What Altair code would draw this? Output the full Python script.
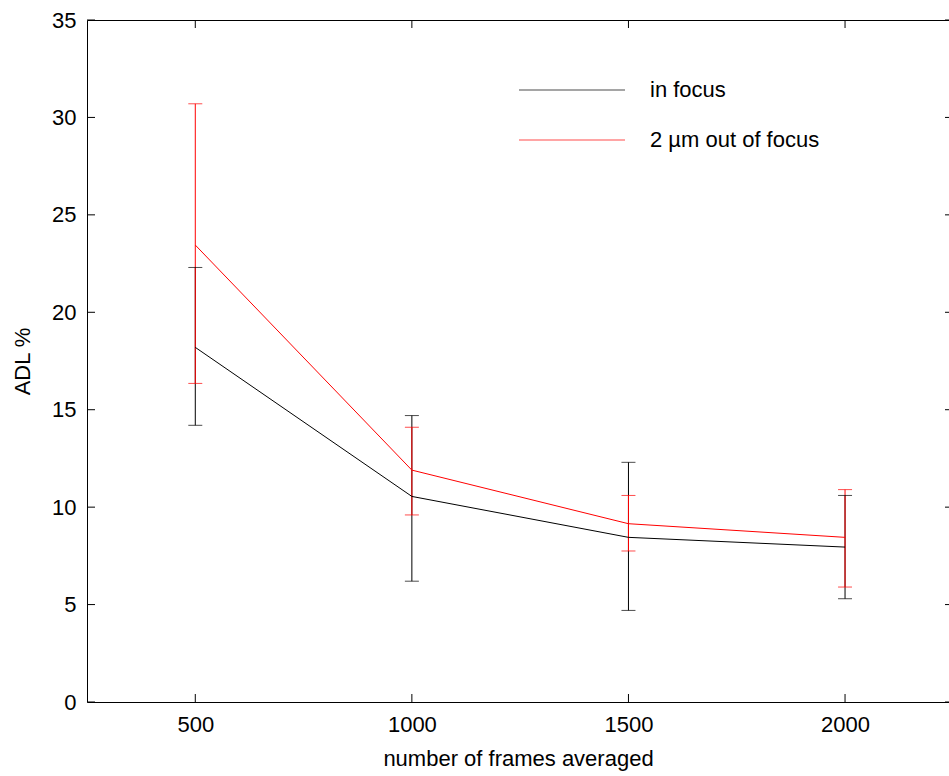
import altair as alt
import pandas as pd

# ---- data ----
frames = [500, 1000, 1500, 2000]
series_names = ["in focus", "2 µm out of focus"]
series_colors = ["#000000", "#ff0000"]

in_focus_mean = [18.2, 10.55, 8.45, 7.95]
in_focus_low = [14.2, 6.2, 4.7, 5.3]
in_focus_high = [22.3, 14.7, 12.3, 10.6]

out_focus_mean = [23.45, 11.9, 9.15, 8.45]
out_focus_low = [16.35, 9.6, 7.75, 5.9]
out_focus_high = [30.7, 14.1, 10.6, 10.9]

x_ticks = [500, 1000, 1500, 2000]
y_ticks = [0, 5, 10, 15, 20, 25, 30, 35]

x_title = "number of frames averaged"
y_title = "ADL %"

# ---- build tables ----
rows = []
for name, m, lo, hi in [
    (series_names[0], in_focus_mean, in_focus_low, in_focus_high),
    (series_names[1], out_focus_mean, out_focus_low, out_focus_high),
]:
    for f, a, b, c in zip(frames, m, lo, hi):
        rows.append({"series": name, "frames": f, "mean": a, "low": b, "high": c})
df = pd.DataFrame(rows)
xt = pd.DataFrame({"v": x_ticks})
yt = pd.DataFrame({"v": y_ticks})

W, H = 862, 682
FONT = "Liberation Sans"
FS = 22
TL = 8

xscale = alt.Scale(domain=[250, 2240], nice=False, zero=False)
yscale = alt.Scale(domain=[0, 35], nice=False, zero=False)

xaxis = alt.Axis(values=x_ticks, format="d", ticks=False, domain=False, grid=False,
                 labelFont=FONT, labelFontSize=FS, labelColor="black",
                 labelPadding=12, title=x_title, titleFont=FONT,
                 titleFontSize=FS, titleFontWeight="normal", titleColor="black",
                 titlePadding=13)
yaxis = alt.Axis(values=y_ticks, format="d", ticks=False, domain=False, grid=False,
                 labelFont=FONT, labelFontSize=FS, labelColor="black",
                 labelPadding=11, title=y_title, titleFont=FONT,
                 titleFontSize=FS, titleFontWeight="normal", titleColor="black",
                 titlePadding=17)

color = alt.Color(
    "series:N",
    scale=alt.Scale(domain=series_names, range=series_colors),
    legend=alt.Legend(
        title=None, orient="none", legendX=474, legendY=59,
        symbolType="M-53,0H53", symbolSize=4, symbolStrokeWidth=1,
        labelFont=FONT, labelFontSize=FS, labelColor="black", labelLimit=500,
        labelOffset=67, rowPadding=28, padding=0,
    ),
)

base = alt.Chart(df)

err = base.mark_rule(strokeWidth=1).encode(
    x=alt.X("frames:Q", scale=xscale, axis=xaxis),
    y=alt.Y("low:Q", scale=yscale, axis=yaxis),
    y2="high:Q",
    color=color,
)
line = base.mark_line(strokeWidth=1).encode(
    x=alt.X("frames:Q", scale=xscale),
    y=alt.Y("mean:Q", scale=yscale),
    color=color,
)
cap_lo = base.mark_tick(orient="horizontal", size=14, thickness=1).encode(
    x=alt.X("frames:Q", scale=xscale),
    y=alt.Y("low:Q", scale=yscale),
    color=color,
)
cap_hi = base.mark_tick(orient="horizontal", size=14, thickness=1).encode(
    x=alt.X("frames:Q", scale=xscale),
    y=alt.Y("high:Q", scale=yscale),
    color=color,
)

# inward ticks (MATLAB style) on all four sides
yt_left = alt.Chart(yt).mark_rule(color="black", strokeWidth=1).encode(
    y=alt.Y("v:Q", scale=yscale), x=alt.value(0), x2=alt.value(TL))
yt_right = alt.Chart(yt).mark_rule(color="black", strokeWidth=1).encode(
    y=alt.Y("v:Q", scale=yscale), x=alt.value(W + 4 - TL), x2=alt.value(W + 4))
xt_bottom = alt.Chart(xt).mark_rule(color="black", strokeWidth=1).encode(
    x=alt.X("v:Q", scale=xscale), y=alt.value(H), y2=alt.value(H - TL))
xt_top = alt.Chart(xt).mark_rule(color="black", strokeWidth=1).encode(
    x=alt.X("v:Q", scale=xscale), y=alt.value(0), y2=alt.value(TL))

chart = alt.layer(err, line, cap_lo, cap_hi, yt_left, yt_right, xt_bottom, xt_top).properties(
    width=W, height=H,
    autosize=alt.AutoSizeParams(type="none"),
    padding={"left": 87, "top": 20, "right": 0, "bottom": 72},
    background="white",
).configure_view(stroke="black", strokeWidth=1)

chart.save("out.html", embed_options={"renderer": "svg", "actions": False})
